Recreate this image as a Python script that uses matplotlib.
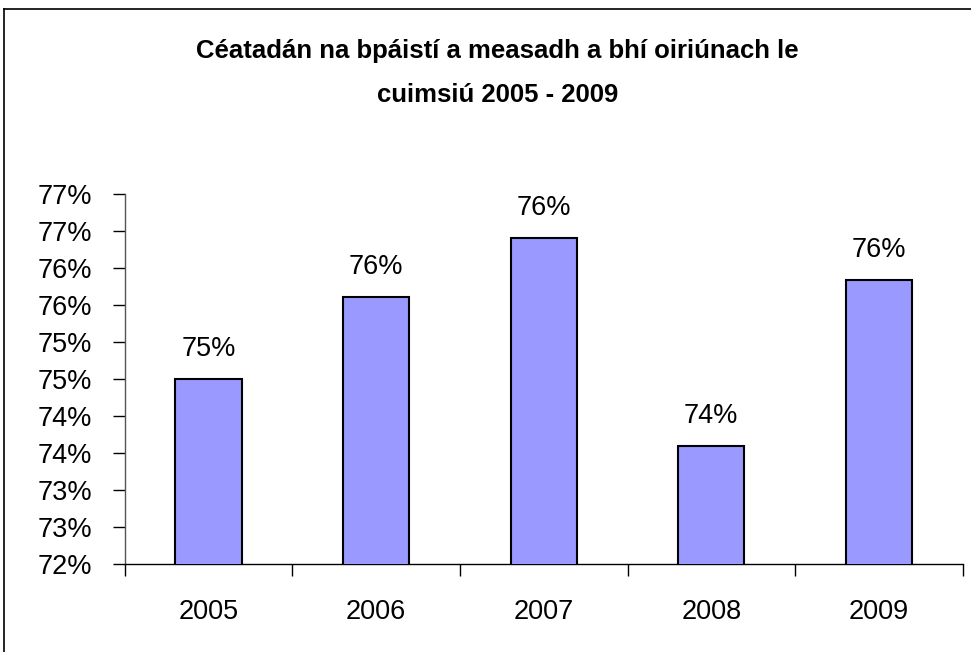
import math
import matplotlib
matplotlib.use("Agg")
import matplotlib.pyplot as plt
from matplotlib.ticker import FuncFormatter, FixedLocator
from matplotlib.lines import Line2D

years = ["2005", "2006", "2007", "2008", "2009"]
values = [74.5, 75.61, 76.40, 73.60, 75.84]
title_lines = ["Céatadán na bpáistí a measadh a bhí oiriúnach le", "cuimsiú 2005 - 2009"]

plt.rcParams["font.family"] = ["Liberation Sans", "DejaVu Sans"]

W, H = 971, 652
fig = plt.figure(figsize=(W / 100, H / 100), dpi=100)
fig.patch.set_facecolor("white")

def fx(px):
    return px / W

def fy(py):
    return 1 - py / H

ax = fig.add_axes([fx(124.7), fy(564.3), fx(962.7) - fx(124.7), fy(194) - fy(564.3)])

def pct(v):
    return f"{int(math.floor(v + 0.5 + 1e-9))}%"

x = list(range(len(years)))
bars = ax.bar(x, values, width=0.394, color="#9999FF", edgecolor="black", linewidth=1.5, zorder=3)

ax.set_ylim(72, 77)
ax.set_xlim(-0.5, len(years) - 0.5)

ax.yaxis.set_major_locator(FixedLocator([72 + 0.5 * i for i in range(11)]))
ax.yaxis.set_major_formatter(FuncFormatter(lambda v, p: pct(v)))
ax.tick_params(axis="y", direction="out", length=8.6, width=1, pad=15, labelsize=19.5, colors="black")

ax.xaxis.set_major_locator(FixedLocator([i - 0.5 for i in range(len(years) + 1)]))
ax.xaxis.set_major_formatter(FuncFormatter(lambda v, p: ""))
ax.xaxis.set_minor_locator(FixedLocator(x))
ax.set_xticks(x, minor=True)
ax.set_xticklabels(years, minor=True)
ax.tick_params(axis="x", which="major", direction="out", length=8.6, width=1)
ax.tick_params(axis="x", which="minor", length=0, pad=25, labelsize=19.5)

for s in ["top", "right"]:
    ax.spines[s].set_visible(False)
ax.spines["left"].set_color("#555555")
ax.spines["bottom"].set_color("black")
ax.spines["left"].set_linewidth(1)
ax.spines["bottom"].set_linewidth(1)

for xi, v in zip(x, values):
    ax.annotate(pct(v), (xi, v), xytext=(0, 16.6), textcoords="offset points",
                ha="center", va="baseline", fontsize=19.5)

fig.text(fx(497.6), fy(58.3), title_lines[0], ha="center", va="baseline", fontsize=18.5, fontweight="bold")
fig.text(fx(497.6), fy(101.7), title_lines[1], ha="center", va="baseline", fontsize=18.5, fontweight="bold")

fig.add_artist(Line2D([fx(3.5), fx(3.5)], [fy(9), fy(660)], transform=fig.transFigure, color="black", lw=1.2))
fig.add_artist(Line2D([fx(3.5), fx(980)], [fy(9), fy(9)], transform=fig.transFigure, color="black", lw=1.2))

fig.savefig("out.png", dpi=100)
